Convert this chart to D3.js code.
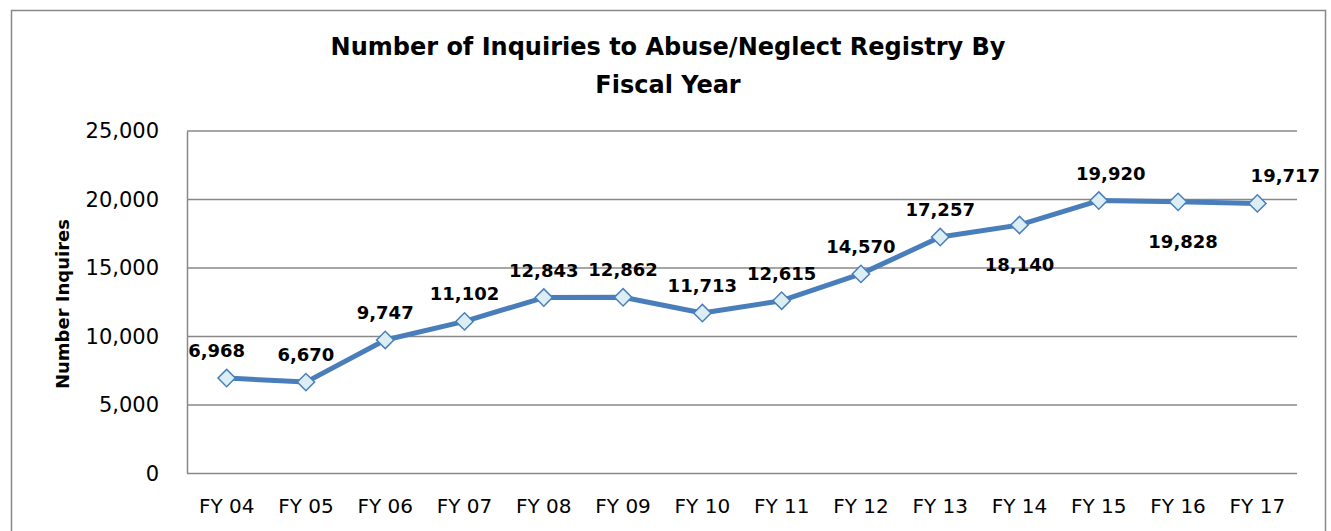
<!DOCTYPE html>
<html>
<head>
<meta charset="utf-8">
<script src="https://cdn.jsdelivr.net/npm/d3@7"></script>
<style>
  html, body { margin: 0; padding: 0; background: #fff; }
  svg { display: block; }
</style>
</head>
<body>
<svg id="chart" width="1331" height="531"></svg>
<script>
const categories = ["FY 04","FY 05","FY 06","FY 07","FY 08","FY 09","FY 10","FY 11","FY 12","FY 13","FY 14","FY 15","FY 16","FY 17"];
const inquiries = [6968, 6670, 9747, 11102, 12843, 12862, 11713, 12615, 14570, 17257, 18140, 19920, 19828, 19717];
const labelSide = ["above","above","above","above","above","above","above","above","above","above","below","above","below","above"];
const yTicks = [0, 5000, 10000, 15000, 20000, 25000];
const titleLines = ["Number of Inquiries to Abuse/Neglect Registry By", "Fiscal Year"];
const yTitle = "Number Inquires";

const FONT = "'DejaVu Sans', sans-serif";
const svg = d3.select("#chart");

// outer chart border
svg.append("rect").attr("x", 11.5).attr("y", 10.5).attr("width", 1314).attr("height", 540)
  .attr("fill", "#fff").attr("stroke", "#888").attr("stroke-width", 1.5);

const plot = {left: 187, right: 1297, top: 131, bottom: 473.5};

const x = d3.scaleBand().domain(categories).range([plot.left, plot.right]);
const y = d3.scaleLinear().domain([0, 25000]).range([plot.bottom, plot.top]);

// gridlines
svg.append("g").selectAll("line").data(yTicks).join("line")
  .attr("x1", plot.left).attr("x2", plot.right)
  .attr("y1", d => y(d)).attr("y2", d => y(d))
  .attr("stroke", "#888").attr("stroke-width", 1.5);

// y axis
const yAxis = svg.append("g").attr("transform", `translate(${plot.left},0)`)
  .call(d3.axisLeft(y).tickValues(yTicks).tickFormat(d3.format(",")).tickSize(0).tickPadding(28));
yAxis.select(".domain").attr("stroke", "#888").attr("stroke-width", 1.5);
yAxis.selectAll("text").attr("font-family", FONT).attr("font-size", 21).attr("fill", "#000");

// x axis
const xAxis = svg.append("g").attr("transform", `translate(0,${plot.bottom})`)
  .call(d3.axisBottom(x).tickSize(0).tickPadding(25));
xAxis.select(".domain").remove();
xAxis.selectAll("text").attr("font-family", FONT).attr("font-size", 20).attr("fill", "#000");

// title
svg.append("text").attr("x", 668).attr("font-family", FONT).attr("font-weight", "bold")
  .attr("font-size", 24).attr("text-anchor", "middle").attr("fill", "#000")
  .selectAll("tspan").data(titleLines).join("tspan")
  .attr("x", 668).attr("y", (d, i) => 55 + i * 38).text(d => d);

// y title
svg.append("text").attr("transform", "translate(69,304) rotate(-90)")
  .attr("font-family", FONT).attr("font-weight", "bold").attr("font-size", 18)
  .attr("text-anchor", "middle").attr("fill", "#000").text(yTitle);

// line
const cx = d => x(d) + x.bandwidth() / 2;
const line = d3.line().x((d, i) => cx(categories[i])).y(d => y(d));
svg.append("path").datum(inquiries).attr("d", line)
  .attr("fill", "none").attr("stroke", "#4a7ebb").attr("stroke-width", 5).attr("stroke-linejoin", "round");

// markers
svg.append("g").selectAll("path").data(inquiries).join("path")
  .attr("transform", (d, i) => `translate(${cx(categories[i])},${y(d)}) rotate(45)`)
  .attr("d", d3.symbol().type(d3.symbolSquare).size(150)())
  .attr("fill", "#dbeef4").attr("stroke", "#4a7ebb").attr("stroke-width", 1.5);

// data labels
const fmt = d3.format(",");
svg.append("g").selectAll("text").data(inquiries).join("text")
  .attr("x", (d, i) => {
    let dx = 0;
    if (i === 0) dx = -10;
    if (i === categories.length - 1) dx = 28;
    if (i === 11) dx = 12;
    if (i === 12) dx = 5;
    return cx(categories[i]) + dx;
  })
  .attr("y", (d, i) => y(d) + (labelSide[i] === "above" ? -21 : 46))
  .attr("text-anchor", "middle").attr("font-family", FONT).attr("font-weight", "bold")
  .attr("font-size", 18).attr("fill", "#000").text(d => fmt(d));
</script>
</body>
</html>
